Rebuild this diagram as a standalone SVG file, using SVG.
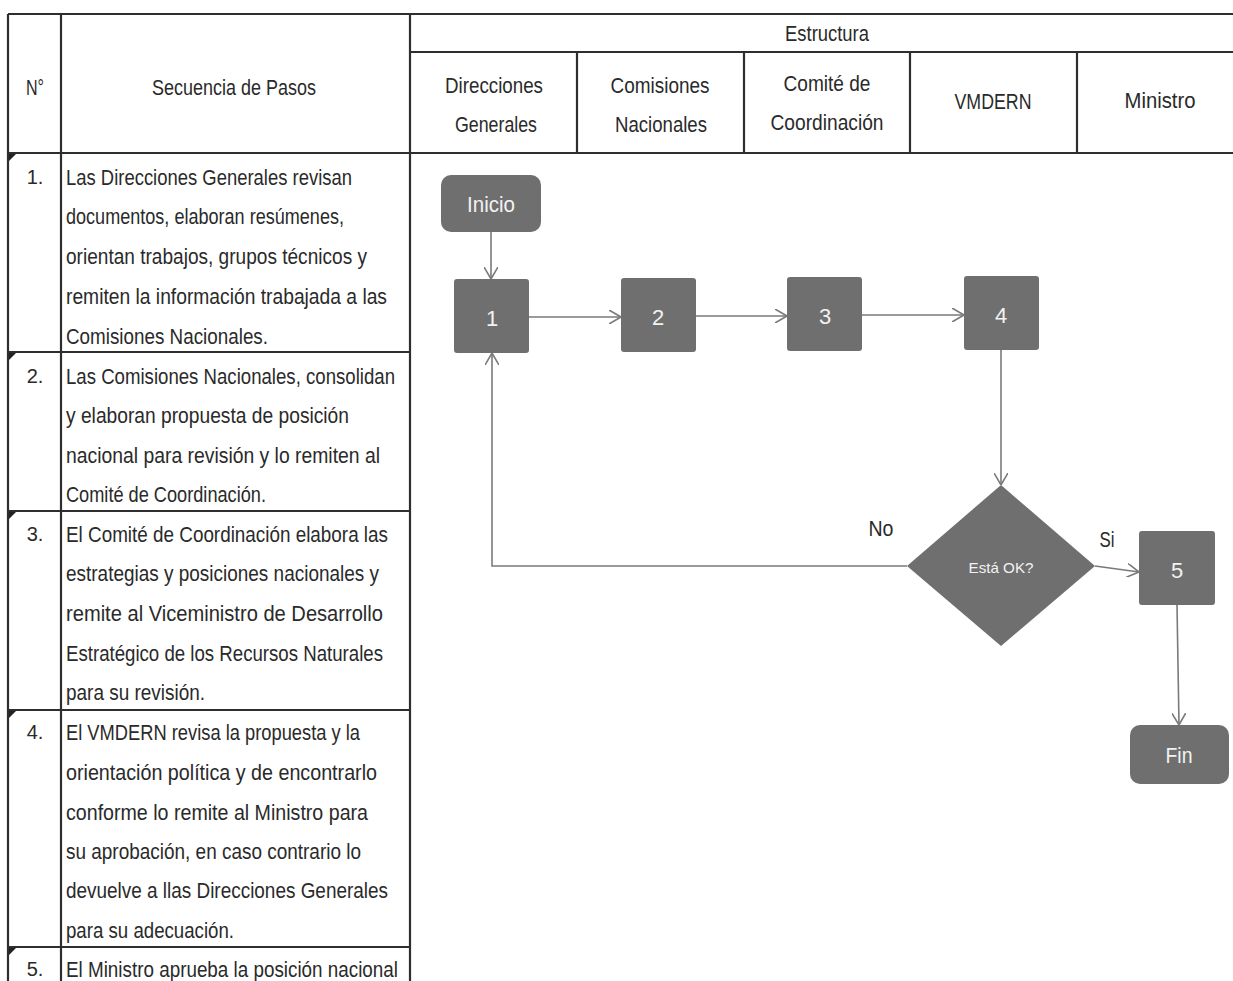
<svg xmlns="http://www.w3.org/2000/svg" width="1233" height="981" viewBox="0 0 1233 981">
<style>
.bg{fill:#ffffff}
.tl{stroke:#2e2e2e;stroke-width:2.2;fill:none}
.t{font-family:"Liberation Sans",Arial,sans-serif;font-size:22px;fill:#2a2a2a}
.h{font-family:"Liberation Sans",Arial,sans-serif;font-size:22px;fill:#2a2a2a;text-anchor:middle}
.n{font-family:"Liberation Sans",Arial,sans-serif;font-size:20px;fill:#2a2a2a;text-anchor:middle}
.node{fill:#6f6f6f}
.nt{font-family:"Liberation Sans",Arial,sans-serif;font-size:22px;fill:#f2f2f2;text-anchor:middle}
.lbl{font-family:"Liberation Sans",Arial,sans-serif;font-size:22px;fill:#2a2a2a;text-anchor:middle}
.c{stroke:#7a7a7a;stroke-width:1.6;fill:none;marker-end:url(#arr)}
.tri{fill:#222}
</style>
<defs>
<marker id="arr" viewBox="0 0 12 14" refX="12" refY="7" markerWidth="12" markerHeight="14" markerUnits="userSpaceOnUse" orient="auto">
<path d="M0,0 L12,7 L0,14" fill="none" stroke="#7a7a7a" stroke-width="1.6"/>
</marker>
</defs>
<rect class="bg" x="0" y="0" width="1233" height="981"/>

<g id="table">
<path class="tl" d="M8,14 H1233 M8,14 V981 M61,14 V981 M410,14 V981 M410,52 H1233 M8,153 H1233 M577,52 V153 M744,52 V153 M910,52 V153 M1077,52 V153"/>
<path class="tl" d="M8,352 H410 M8,511 H410 M8,710 H410 M8,947 H410"/>
<polygon class="tri" points="9,154 16,154 9,161"/>
<polygon class="tri" points="9,353 16,353 9,360"/>
<polygon class="tri" points="9,512 16,512 9,519"/>
<polygon class="tri" points="9,711 16,711 9,718"/>
<polygon class="tri" points="9,948 16,948 9,955"/>
<text class="h" x="35" y="95" textLength="18" lengthAdjust="spacingAndGlyphs">N°</text>
<text class="h" x="234" y="95" textLength="164" lengthAdjust="spacingAndGlyphs">Secuencia de Pasos</text>
<text class="h" x="827" y="41" textLength="84" lengthAdjust="spacingAndGlyphs">Estructura</text>
<text class="h" x="494" y="93" textLength="98" lengthAdjust="spacingAndGlyphs">Direcciones</text>
<text class="h" x="496" y="132" textLength="82" lengthAdjust="spacingAndGlyphs">Generales</text>
<text class="h" x="660" y="93" textLength="99" lengthAdjust="spacingAndGlyphs">Comisiones</text>
<text class="h" x="661" y="132" textLength="92" lengthAdjust="spacingAndGlyphs">Nacionales</text>
<text class="h" x="827" y="91" textLength="87" lengthAdjust="spacingAndGlyphs">Comité de</text>
<text class="h" x="827" y="130" textLength="113" lengthAdjust="spacingAndGlyphs">Coordinación</text>
<text class="h" x="993" y="109" textLength="77" lengthAdjust="spacingAndGlyphs">VMDERN</text>
<text class="h" x="1160" y="108" textLength="71" lengthAdjust="spacingAndGlyphs">Ministro</text>
</g>

<g id="step1">
<text class="n" x="35" y="184">1.</text>
<text class="t" x="66" y="185" textLength="286" lengthAdjust="spacingAndGlyphs">Las Direcciones Generales revisan</text>
<text class="t" x="66" y="224" textLength="278" lengthAdjust="spacingAndGlyphs">documentos, elaboran resúmenes,</text>
<text class="t" x="66" y="264" textLength="301" lengthAdjust="spacingAndGlyphs">orientan trabajos, grupos técnicos y</text>
<text class="t" x="66" y="304" textLength="321" lengthAdjust="spacingAndGlyphs">remiten la información trabajada a las</text>
<text class="t" x="66" y="344" textLength="202" lengthAdjust="spacingAndGlyphs">Comisiones Nacionales.</text>
</g>
<g id="step2">
<text class="n" x="35" y="383">2.</text>
<text class="t" x="66" y="384" textLength="329" lengthAdjust="spacingAndGlyphs">Las Comisiones Nacionales, consolidan</text>
<text class="t" x="66" y="423" textLength="283" lengthAdjust="spacingAndGlyphs">y elaboran propuesta de posición</text>
<text class="t" x="66" y="463" textLength="314" lengthAdjust="spacingAndGlyphs">nacional para revisión y lo remiten al</text>
<text class="t" x="66" y="502" textLength="200" lengthAdjust="spacingAndGlyphs">Comité de Coordinación.</text>
</g>
<g id="step3">
<text class="n" x="35" y="541">3.</text>
<text class="t" x="66" y="542" textLength="322" lengthAdjust="spacingAndGlyphs">El Comité de Coordinación elabora las</text>
<text class="t" x="66" y="581" textLength="313" lengthAdjust="spacingAndGlyphs">estrategias y posiciones nacionales y</text>
<text class="t" x="66" y="621" textLength="317" lengthAdjust="spacingAndGlyphs">remite al Viceministro de Desarrollo</text>
<text class="t" x="66" y="661" textLength="317" lengthAdjust="spacingAndGlyphs">Estratégico de los Recursos Naturales</text>
<text class="t" x="66" y="700" textLength="139" lengthAdjust="spacingAndGlyphs">para su revisión.</text>
</g>
<g id="step4">
<text class="n" x="35" y="739">4.</text>
<text class="t" x="66" y="740" textLength="294" lengthAdjust="spacingAndGlyphs">El VMDERN revisa la propuesta y la</text>
<text class="t" x="66" y="780" textLength="311" lengthAdjust="spacingAndGlyphs">orientación política y de encontrarlo</text>
<text class="t" x="66" y="820" textLength="302" lengthAdjust="spacingAndGlyphs">conforme lo remite al Ministro para</text>
<text class="t" x="66" y="859" textLength="295" lengthAdjust="spacingAndGlyphs">su aprobación, en caso contrario lo</text>
<text class="t" x="66" y="898" textLength="322" lengthAdjust="spacingAndGlyphs">devuelve a llas Direcciones Generales</text>
<text class="t" x="66" y="938" textLength="168" lengthAdjust="spacingAndGlyphs">para su adecuación.</text>
</g>
<g id="step5">
<text class="n" x="35" y="976">5.</text>
<text class="t" x="66" y="977" textLength="332" lengthAdjust="spacingAndGlyphs">El Ministro aprueba la posición nacional</text>
</g>

<g id="connectors">
<path class="c" d="M491,232 V279"/>
<path class="c" d="M529,317 H621"/>
<path class="c" d="M696,316 H787"/>
<path class="c" d="M862,315 H964"/>
<path class="c" d="M1001,350 V485"/>
<path class="c" d="M907,566 H492 V353"/>
<path class="c" d="M1095,566 L1139,572"/>
<path class="c" d="M1177,605 L1179,725"/>
<text class="lbl" x="881" y="536" textLength="25" lengthAdjust="spacingAndGlyphs">No</text>
<text class="lbl" x="1107" y="547" textLength="15" lengthAdjust="spacingAndGlyphs">Si</text>
</g>

<g id="inicio">
<rect class="node" x="441" y="175" width="100" height="57" rx="10"/>
<text class="nt" x="491" y="212" textLength="48" lengthAdjust="spacingAndGlyphs">Inicio</text>
</g>
<g id="n1">
<rect class="node" x="454" y="279" width="75" height="74" rx="3"/>
<text class="nt" x="492" y="326">1</text>
</g>
<g id="n2">
<rect class="node" x="621" y="278" width="75" height="74" rx="3"/>
<text class="nt" x="658" y="325">2</text>
</g>
<g id="n3">
<rect class="node" x="787" y="277" width="75" height="74" rx="3"/>
<text class="nt" x="825" y="324">3</text>
</g>
<g id="n4">
<rect class="node" x="964" y="276" width="75" height="74" rx="3"/>
<text class="nt" x="1001" y="323">4</text>
</g>
<g id="decision">
<polygon class="node" points="1001,485 1095,566 1001,646 907,566"/>
<text class="nt" x="1001" y="573" style="font-size:15px" textLength="65" lengthAdjust="spacingAndGlyphs">Está OK?</text>
</g>
<g id="n5">
<rect class="node" x="1139" y="531" width="76" height="74" rx="3"/>
<text class="nt" x="1177" y="578">5</text>
</g>
<g id="fin">
<rect class="node" x="1130" y="725" width="99" height="59" rx="10"/>
<text class="nt" x="1179" y="763" textLength="27" lengthAdjust="spacingAndGlyphs">Fin</text>
</g>
</svg>
